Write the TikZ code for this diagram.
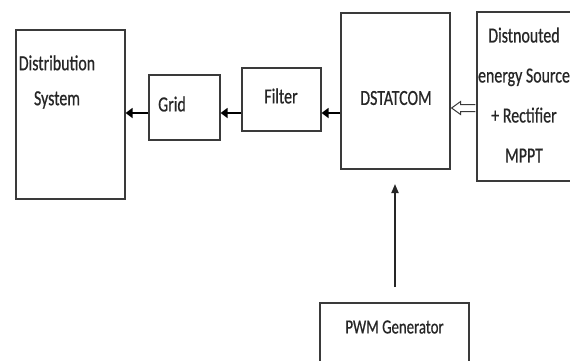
\documentclass[tikz,border=0pt]{standalone}
\usepackage{fontspec}
\setmainfont{Carlito}[FakeStretch=0.74,FakeBold=0.6]
\usetikzlibrary{arrows.meta,shapes.arrows,calc}
\definecolor{boxline}{HTML}{3A3A3A}
\definecolor{txt}{HTML}{262626}
\begin{document}
\begin{tikzpicture}[x=1pt,y=-1pt,
  blk/.style={draw=boxline,line width=1.2pt,rectangle,inner sep=0pt},
  lbl/.style={text=txt,inner sep=0pt,align=center,font=\fontsize{21.5}{35}\selectfont},
  thick arrow/.style={draw=black,line width=2.8pt,-{Triangle[length=7pt,width=10pt]}},
  thin arrow/.style={draw=black!85,line width=1.8pt,-{Triangle[length=9pt,width=7pt]}}]
\useasboundingbox (0,0) rectangle (570,360);
\clip (0,0) rectangle (570,360);
\fill[white] (0,0) rectangle (570,360);
% boxes
\node[blk,minimum width=109pt,minimum height=169pt] (dist) at (70.5,114.5) {};
\node[blk,minimum width=71pt,minimum height=65pt] (grid) at (184.5,107.5) {};
\node[blk,minimum width=79pt,minimum height=63pt] (filter) at (281.5,99.5) {};
\node[blk,minimum width=109pt,minimum height=156pt] (dstat) at (395.5,91) {};
\node[blk,minimum width=123pt,minimum height=169pt] (src) at (538.5,96.5) {};
\node[blk,minimum width=149pt,minimum height=70pt] (pwm) at (394.5,338) {};
% texts
\node[lbl] (tdist) at (57,82) {Distribution\\System};
\node[lbl] (tgrid) at (172,104) {Grid};
\node[lbl] (tfilter) at (281,96) {Filter};
\node[lbl] (tdstat) at (396,98) {DSTATCOM};
\node[lbl,font=\fontsize{21.5}{40}\selectfont] (tsrc) at (524,95) {Distnouted\\energy Source\\+ Rectifier\\MPPT};
\node[lbl,font=\fontsize{20}{22}\selectfont] (tpwm) at (394.5,327) {PWM Generator};
% arrows
\draw[thick arrow] (dstat.west |- 0,113) -- (filter.east |- 0,113);
\draw[thick arrow] (filter.west |- 0,113) -- (grid.east |- 0,113);
\draw[thick arrow] (grid.west |- 0,113) -- (dist.east |- 0,113);
\coordinate (hs) at (src.west |- 0,108);
\coordinate (he) at (dstat.east |- 0,108);
\draw[boxline,line width=1pt,line join=miter]
  ($(hs)+(-1,-3.5)$) -- ($(he)+(10,-3.5)$) -- ($(he)+(10,-6.5)$) -- ($(he)+(1,0)$)
  -- ($(he)+(10,6.5)$) -- ($(he)+(10,3.5)$) -- ($(hs)+(-1,3.5)$);
\coordinate (pa) at (395,287);
\coordinate (pb) at (395,184);
\draw[thin arrow] (pa) -- (pb);
\end{tikzpicture}
\end{document}
